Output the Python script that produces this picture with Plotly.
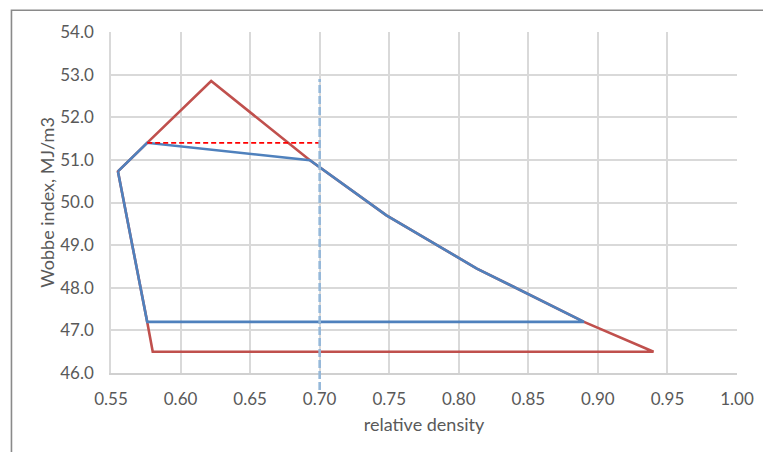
import plotly.graph_objects as go

# Data
blue_x = [0.555, 0.576, 0.693, 0.748, 0.813, 0.890, 0.576, 0.555]
blue_y = [50.73, 51.40, 50.99, 49.70, 48.45, 47.20, 47.20, 50.73]

red_x = [0.576, 0.622, 0.693, 0.748, 0.813, 0.890, 0.940, 0.580, 0.576, 0.555, 0.576]
red_y = [51.40, 52.85, 50.99, 49.70, 48.45, 47.20, 46.50, 46.50, 47.20, 50.73, 51.40]

hline_x = [0.576, 0.700]
hline_y = [51.40, 51.40]

vline_x = 0.70
vline_y = [45.6, 52.9]

x_range = [0.55, 1.00]
y_range = [46.0, 54.0]
x_ticks = [0.55, 0.60, 0.65, 0.70, 0.75, 0.80, 0.85, 0.90, 0.95, 1.00]
y_ticks = [46.0, 47.0, 48.0, 49.0, 50.0, 51.0, 52.0, 53.0, 54.0]

RED = "#c0504d"
BLUE = "#4f81bd"
TXT = "#595959"
FONT = "Lato"

fig = go.Figure()
fig.add_trace(go.Scatter(x=red_x, y=red_y, mode="lines",
                         line=dict(color=RED, width=2.6), showlegend=False))
fig.add_trace(go.Scatter(x=blue_x, y=blue_y, mode="lines",
                         line=dict(color=BLUE, width=2.6), showlegend=False))
fig.add_trace(go.Scatter(x=hline_x, y=hline_y, mode="lines",
                         line=dict(color="#ff0000", width=1.6, dash="5px,3px"),
                         showlegend=False))

def to_paper(v):
    return (v - y_range[0]) / (y_range[1] - y_range[0])

fig.add_shape(type="line", xref="x", yref="paper",
              x0=vline_x, x1=vline_x, y0=to_paper(vline_y[0]), y1=to_paper(vline_y[1]),
              line=dict(color="#95b8d9", width=2.6, dash="8px,3px"), layer="above")

# chart outer border (extends past the window on right/bottom)
fig.add_shape(type="rect", xref="paper", yref="paper",
              x0=-0.159, x1=1.06, y0=-0.27, y1=1.0636,
              line=dict(color="#8a8a8a", width=1.6), layer="below")

fig.update_layout(
    width=763, height=452,
    margin=dict(l=111, r=26, t=32, b=79, autoexpand=False),
    paper_bgcolor="white", plot_bgcolor="white",
    font=dict(family=FONT, size=17, color=TXT),
    xaxis=dict(range=x_range, tickvals=x_ticks,
               ticktext=[f"{v:.2f}" for v in x_ticks],
               showgrid=True, gridcolor="#d9d9d9", gridwidth=1.5,
               zeroline=False, showline=True, linecolor="#d0d0d0", linewidth=1.5,
               ticks="", ticklabelstandoff=10,
               title=dict(text="relative density", font=dict(size=18, color=TXT), standoff=10)),
    yaxis=dict(range=y_range, tickvals=y_ticks,
               ticktext=[f"{v:.1f}" for v in y_ticks],
               showgrid=True, gridcolor="#d9d9d9", gridwidth=1.5,
               zeroline=False, showline=True, linecolor="#d9d9d9", linewidth=1.5,
               ticks="", ticklabelstandoff=12,
               title=dict(text="Wobbe index, MJ/m3", font=dict(size=18, color=TXT), standoff=1)),
)

fig.write_html("out.html")
